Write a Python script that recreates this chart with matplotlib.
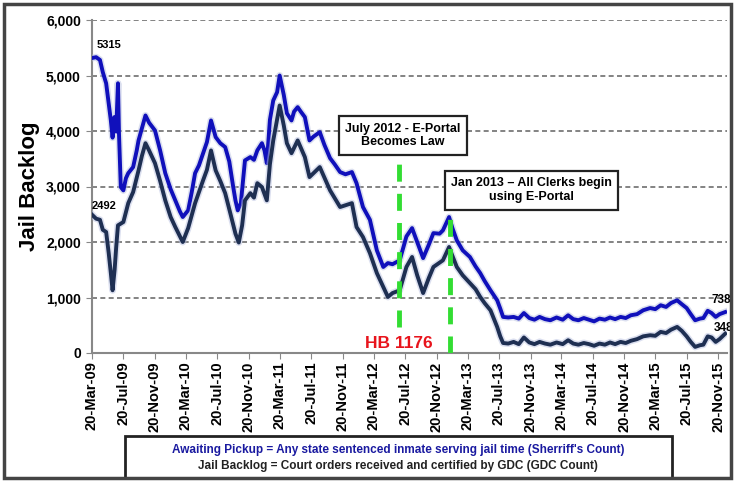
import pandas as pd
import matplotlib
matplotlib.use('Agg')
import matplotlib.pyplot as plt
import matplotlib.dates as mdates
import matplotlib.ticker as mticker
import matplotlib.patheffects as pe
from matplotlib.patches import Rectangle

plt.rcParams['font.family'] = ['Liberation Sans', 'DejaVu Sans']
plt.rcParams['font.weight'] = 'bold'

# awaiting pickup (sheriff's count)
pickup_dates = ['2009-03-20', '2009-04-05', '2009-04-20', '2009-05-01', '2009-05-14', '2009-05-24',
                '2009-06-01', '2009-06-08', '2009-06-15', '2009-06-22', '2009-06-29', '2009-07-03',
                '2009-07-10', '2009-07-20', '2009-07-30', '2009-08-08', '2009-08-27', '2009-09-10',
                '2009-09-17', '2009-09-30', '2009-10-14', '2009-10-28', '2009-11-20', '2009-12-10',
                '2009-12-30', '2010-01-20', '2010-02-07', '2010-02-25', '2010-03-08', '2010-03-29',
                '2010-04-12', '2010-04-25', '2010-05-10', '2010-05-26', '2010-06-10', '2010-06-26',
                '2010-07-14', '2010-08-01', '2010-08-20', '2010-09-05', '2010-09-20', '2010-09-29',
                '2010-10-08', '2010-10-20', '2010-11-05', '2010-11-26', '2010-12-10', '2010-12-23',
                '2011-01-10', '2011-01-20', '2011-01-29', '2011-02-10', '2011-02-23', '2011-03-10',
                '2011-03-20', '2011-04-05', '2011-04-17', '2011-05-05', '2011-05-15', '2011-05-29',
                '2011-06-10', '2011-06-26', '2011-07-14', '2011-07-30', '2011-08-23', '2011-09-10',
                '2011-10-02', '2011-10-20', '2011-11-10', '2011-12-01', '2011-12-26', '2012-01-13',
                '2012-02-07', '2012-03-05', '2012-04-01', '2012-04-26', '2012-05-14', '2012-06-01',
                '2012-06-29', '2012-07-25', '2012-08-16', '2012-09-05', '2012-09-28', '2012-10-20',
                '2012-11-07', '2012-12-01', '2012-12-14', '2013-01-07', '2013-01-20', '2013-02-06',
                '2013-03-01', '2013-03-29', '2013-04-20', '2013-05-08', '2013-05-25', '2013-06-17',
                '2013-07-13', '2013-07-25', '2013-08-05', '2013-08-25', '2013-09-15', '2013-10-05',
                '2013-10-25', '2013-11-15', '2013-12-05', '2013-12-25', '2014-01-15', '2014-02-05',
                '2014-03-01', '2014-03-25', '2014-04-15', '2014-05-05', '2014-05-25', '2014-06-15',
                '2014-07-05', '2014-07-25', '2014-08-15', '2014-09-05', '2014-09-25', '2014-10-15',
                '2014-11-05', '2014-11-25', '2014-12-15', '2015-01-08', '2015-02-01', '2015-02-28',
                '2015-03-20', '2015-04-10', '2015-05-01', '2015-05-20', '2015-06-13', '2015-07-01',
                '2015-07-20', '2015-08-05', '2015-08-22', '2015-09-10', '2015-09-23', '2015-10-10',
                '2015-10-25', '2015-11-10', '2015-11-25', '2015-12-17']
pickup = [5315, 5330, 5280, 5060, 4860, 4500,
          4200, 3880, 4250, 3990, 4860, 3950,
          2990, 2930, 3150, 3240, 3350, 3650,
          3830, 4050, 4280, 4150, 4010, 3650,
          3240, 2950, 2750, 2550, 2450, 2570,
          2900, 3240, 3380, 3600, 3800, 4190,
          3890, 3780, 3710, 3450, 3000, 2750,
          2570, 2700, 3470, 3530, 3480, 3650,
          3780, 3650, 3420, 4200, 4550, 4700,
          5000, 4650, 4320, 4190, 4350, 4430,
          4350, 4250, 3830, 3900, 3980, 3750,
          3510, 3400, 3260, 3220, 3260, 3060,
          2630, 2400, 1850, 1550, 1620, 1600,
          1670, 2100, 2250, 2000, 1710, 1950,
          2160, 2150, 2210, 2450, 2250, 2030,
          1850, 1730, 1560, 1440, 1300, 1130,
          950, 800, 650, 640, 650, 620,
          720, 630, 600, 650, 610, 590,
          640, 600, 680, 610, 590, 630,
          600, 570, 620, 600, 640, 610,
          650, 630, 680, 700, 770, 810,
          790, 860, 830, 900, 950, 880,
          810, 700, 590, 620, 630, 760,
          720, 650, 700, 738]

# jail backlog (GDC count)
backlog_dates = ['2009-03-20', '2009-04-05', '2009-04-20', '2009-05-01', '2009-05-14', '2009-05-24',
                 '2009-06-01', '2009-06-08', '2009-06-16', '2009-06-22', '2009-06-29', '2009-07-20',
                 '2009-08-08', '2009-08-27', '2009-09-17', '2009-09-30', '2009-10-14', '2009-10-28',
                 '2009-11-20', '2009-12-10', '2009-12-30', '2010-01-20', '2010-02-07', '2010-03-08',
                 '2010-03-29', '2010-04-25', '2010-05-26', '2010-06-10', '2010-06-26', '2010-07-14',
                 '2010-08-01', '2010-08-20', '2010-09-10', '2010-09-29', '2010-10-12', '2010-10-25',
                 '2010-11-05', '2010-11-26', '2010-12-10', '2010-12-23', '2011-01-10', '2011-01-29',
                 '2011-02-10', '2011-02-23', '2011-03-20', '2011-04-05', '2011-04-17', '2011-05-05',
                 '2011-05-29', '2011-06-26', '2011-07-14', '2011-08-23', '2011-10-02', '2011-11-10',
                 '2011-12-26', '2012-01-13', '2012-02-07', '2012-03-05', '2012-04-01', '2012-04-26',
                 '2012-05-14', '2012-06-01', '2012-06-29', '2012-07-25', '2012-08-16', '2012-09-05',
                 '2012-09-28', '2012-10-20', '2012-11-07', '2012-12-14', '2013-01-07', '2013-01-20',
                 '2013-02-06', '2013-03-01', '2013-03-29', '2013-04-20', '2013-05-08', '2013-05-25',
                 '2013-06-17', '2013-07-13', '2013-07-25', '2013-08-05', '2013-08-25', '2013-09-15',
                 '2013-10-05', '2013-10-25', '2013-11-15', '2013-12-05', '2013-12-25', '2014-01-15',
                 '2014-02-05', '2014-03-01', '2014-03-25', '2014-04-15', '2014-05-05', '2014-05-25',
                 '2014-06-15', '2014-07-05', '2014-07-25', '2014-08-15', '2014-09-05', '2014-09-25',
                 '2014-10-15', '2014-11-05', '2014-11-25', '2014-12-15', '2015-01-08', '2015-02-01',
                 '2015-02-28', '2015-03-20', '2015-04-10', '2015-05-01', '2015-05-20', '2015-06-13',
                 '2015-07-01', '2015-07-20', '2015-08-05', '2015-08-22', '2015-09-10', '2015-09-23',
                 '2015-10-10', '2015-10-25', '2015-11-10', '2015-11-25', '2015-12-17']
backlog = [2492, 2420, 2400, 2220, 2180, 1800,
           1450, 1130, 1500, 1900, 2300, 2360,
           2700, 2900, 3290, 3550, 3780, 3650,
           3420, 3100, 2750, 2450, 2270, 2000,
           2250, 2700, 3110, 3300, 3650, 3290,
           3100, 2880, 2500, 2150, 1990, 2300,
           2750, 2880, 2800, 3060, 2990, 2750,
           3400, 3830, 4460, 4100, 3780, 3600,
           3830, 3530, 3170, 3350, 2930, 2630,
           2700, 2270, 2090, 1800, 1440, 1190,
           1010, 1080, 1130, 1550, 1730, 1400,
           1080, 1350, 1550, 1670, 1910, 1750,
           1550, 1400, 1260, 1150, 1010, 900,
           770, 470, 300, 180, 170, 200,
           160, 280, 190, 160, 200, 170,
           150, 190, 160, 230, 170, 150,
           180, 160, 130, 170, 150, 190,
           160, 200, 180, 220, 250, 300,
           320, 310, 380, 360, 420, 470,
           400, 300, 200, 110, 140, 150,
           300, 280, 200, 250, 348]

y_ticks = [0, 1000, 2000, 3000, 4000, 5000, 6000]

event_dates = ['2012-06-27', '2013-01-12']
event_tops = [3420, 2450]
event_bottoms = [470, 0]
event_texts = ['July 2012 - E-Portal\nBecomes Law', 'Jan 2013 \u2013 All Clerks begin\nusing E-Portal']

blue = '#1010bb'
navy = '#1e2f52'

pickup_dates = pd.to_datetime(pickup_dates)
backlog_dates = pd.to_datetime(backlog_dates)
event_dates = pd.to_datetime(event_dates)

fig = plt.figure(figsize=(7.34, 4.82), dpi=100)
ax = fig.add_axes([92/734, 1 - 353/482, 635/734, 333/482])

# dashed horizontal gridlines
for yv in y_ticks[1:]:
    ax.axhline(yv, color='#6e6e6e', linestyle='--', dashes=(3, 2), linewidth=1.2, zorder=1)

glow = [pe.Stroke(linewidth=5, foreground='#b8c0e0', alpha=0.5), pe.Normal()]
ax.plot(pickup_dates, pickup, color=blue, lw=2.8, path_effects=glow, zorder=3)
ax.plot(backlog_dates, backlog, color=navy, lw=2.8, path_effects=glow, zorder=3)

# event markers
for d, top, bot in zip(event_dates, event_tops, event_bottoms):
    ax.plot([d, d], [bot, top], color='#33dd33', lw=3.5, ls=(0, (3.5, 2.5)), zorder=4)

ax.text(event_dates[0] + pd.Timedelta(days=15), 3920, event_texts[0], ha='center', va='center',
        fontsize=9, fontweight='bold', zorder=5,
        bbox=dict(boxstyle='square,pad=0.5', fc='white', ec='#222222', lw=1.6))
ax.text(event_dates[1] + pd.Timedelta(days=315), 2930, event_texts[1], ha='center', va='center',
        fontsize=9, fontweight='bold', zorder=5,
        bbox=dict(boxstyle='square,pad=0.5', fc='white', ec='#222222', lw=1.6))
ax.text(event_dates[0] + pd.Timedelta(days=-3), 180, 'HB 1176', ha='center', va='center',
        fontsize=12.5, fontweight='bold', color='#e8141c', zorder=5)

# end point labels
ax.annotate(str(pickup[0]), (pickup_dates[0], pickup[0]), xytext=(3, 6), textcoords='offset points',
            fontsize=8, fontweight='bold', ha='left', va='bottom')
ax.annotate(str(backlog[0]), (backlog_dates[0], backlog[0]), xytext=(0, 3), textcoords='offset points',
            fontsize=8, fontweight='bold', ha='left', va='bottom')
ax.annotate(str(pickup[-1]), (pickup_dates[-1], pickup[-1]), xytext=(-10, 4), textcoords='offset points',
            fontsize=8.5, fontweight='bold', ha='left', va='bottom')
ax.annotate(str(backlog[-1]), (backlog_dates[-1], backlog[-1]), xytext=(-8, 0), textcoords='offset points',
            fontsize=8.5, fontweight='bold', ha='left', va='bottom')

ax.set_ylim(0, 6000)
ax.set_xlim(pd.Timestamp('2009-03-20'), pd.Timestamp('2015-12-24'))
ax.set_yticks(y_ticks)
ax.yaxis.set_major_formatter(mticker.FuncFormatter(lambda v, p: f'{int(v):,}'))
ax.xaxis.set_major_locator(mdates.MonthLocator(bymonth=[3, 7, 11], bymonthday=20))
ax.xaxis.set_major_formatter(mdates.DateFormatter('%d-%b-%y'))
ax.tick_params(axis='x', labelrotation=90, labelsize=10.5, length=4, color='#888888', pad=2)
ax.tick_params(axis='y', labelsize=10, length=4, color='#888888', pad=4)

for s in ['top', 'right']:
    ax.spines[s].set_visible(False)
for s in ['left', 'bottom']:
    ax.spines[s].set_color('#888888')
    ax.spines[s].set_linewidth(1.5)

ax.set_ylabel('Jail Backlog', fontsize=16, fontweight='bold', labelpad=4)

# legend box at the bottom
fig.patches.append(Rectangle((125/734, 4/482), 547/734, 42/482, transform=fig.transFigure,
                             fill=False, ec='#222222', lw=2))
fig.text(398/734, 1 - 450/482, "Awaiting Pickup = Any state sentenced inmate serving jail time (Sherriff's Count)",
         ha='center', va='center', fontsize=8.5, fontweight='bold', color='#1a1aa0')
fig.text(398/734, 1 - 466/482, 'Jail Backlog = Court orders received and certified by GDC (GDC Count)',
         ha='center', va='center', fontsize=8.5, fontweight='bold', color='#222222')

# outer frame
fig.patches.append(Rectangle((4/734, 4/482), 727/734, 474/482, transform=fig.transFigure,
                             fill=False, ec='#444444', lw=2.5))

fig.savefig('out.png', dpi=100)
